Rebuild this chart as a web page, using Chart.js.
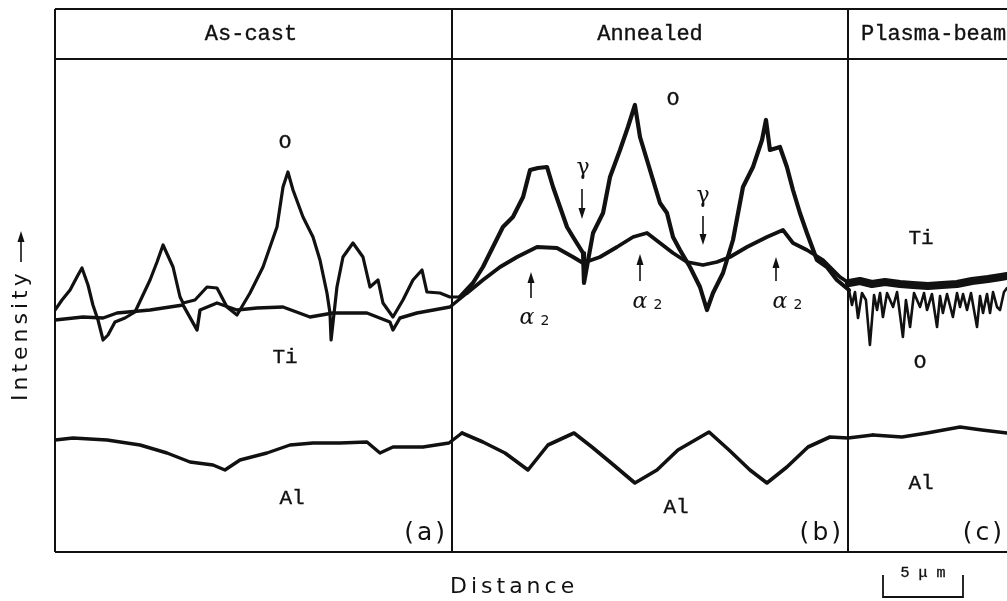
<!DOCTYPE html>
<html>
<head>
<meta charset="utf-8">
<script src="https://cdn.jsdelivr.net/npm/chart.js@4/dist/chart.umd.min.js"></script>
<style>
  html, body { margin: 0; padding: 0; background: #fff; }
  canvas { display: block; }
</style>
</head>
<body>
<canvas id="scan" width="1007" height="601"></canvas>
<script>
// EPMA line scans across three specimens; distance in µm, intensity in arbitrary units.
const PANEL_TITLES = ['As-cast', 'Annealed', 'Plasma-beam'];
const PANEL_TAGS = ['(a)', '(b)', '(c)'];
const PANEL_EDGES = [0, 25, 50, 60];          // µm
const SCALE_BAR = 5;                          // µm

// Oxygen
const O_X = [0.00,0.44,0.95,1.45,1.70,2.08,2.39,2.71,3.03,3.34,3.78,4.41,5.04,5.99,6.43,6.81,7.44,7.88,8.07,8.82,9.58,10.21,10.84,11.47,12.29,13.11,13.99,14.37,14.68,15.00,15.63,16.26,16.70,17.14,17.33,17.40,17.77,18.15,18.78,19.41,19.85,20.36,20.67,21.30,21.93,22.56,23.13,23.44,24.26,24.89,
  25.52,26.34,26.97,27.60,28.23,28.86,29.50,29.94,30.44,31.01,31.39,31.83,32.27,32.65,33.28,33.34,33.91,34.54,34.98,35.61,36.11,36.55,36.87,37.31,37.69,38.13,38.57,38.95,39.39,40.02,40.65,41.09,41.47,42.10,42.73,43.36,43.99,44.56,44.81,45.06,45.69,46.13,46.51,46.95,47.39,48.02,48.65,49.28,
  50.04,50.23,50.42,50.61,50.86,51.11,51.36,51.62,51.81,52.00,52.18,52.44,52.82,53.07,53.44,53.63,53.89,54.14,54.52,54.77,54.96,55.27,55.59,55.78,55.96,56.22,56.59,56.85,57.04,57.23,57.48,57.73,58.11,58.30,58.49,58.74,58.93,59.12,59.37,59.56,59.81,60.00];
const O_Y = [242,252,262,277,284,267,247,232,212,217,230,234,240,272,290,307,285,255,249,252,265,264,245,237,259,285,325,365,380,362,335,315,292,259,239,212,265,295,309,295,265,272,249,235,252,272,282,260,259,255,
  255,269,285,305,325,335,355,382,384,385,365,345,325,315,299,269,319,339,375,402,425,447,415,392,372,349,339,315,302,285,265,242,259,279,312,365,385,412,432,402,405,385,362,339,319,292,285,272,
  262,247,260,234,259,252,207,257,242,259,235,259,245,260,215,252,225,259,245,259,242,258,225,256,239,258,235,259,245,258,242,259,225,256,239,258,239,260,245,242,260,264];

// Titanium
const TI_X = [0,1.76,3.03,3.91,5.99,8.07,8.95,9.14,10.21,11.47,12.73,14.37,16.07,17.52,19.66,21.11,21.30,21.74,22.81,24.89,
  25.97,26.97,28.05,29.12,30.38,31.64,32.65,33.28,34.35,35.42,36.43,37.31,38.13,38.95,39.83,40.84,41.72,42.54,43.61,44.87,45.88,46.51,47.39,48.40,49.47,
  50.04,50.73,51.49,52.31,53.26,54.07,55.02,55.90,56.85,57.79,58.80,59.62,60.00];
const TI_Y = [232,235,234,239,242,247,222,242,249,242,244,245,235,239,239,230,222,234,239,245,
  259,272,285,295,305,304,295,289,295,305,315,319,309,299,290,287,290,295,305,315,322,309,302,292,275,
  269,271,268,270,268,267,266,267,268,271,273,275,276];

// Aluminium
const AL_X = [0,1.13,3.28,5.36,7.06,8.51,9.96,10.71,11.66,13.36,14.81,16.26,17.96,19.66,20.48,21.30,23.19,24.83,
  25.65,26.97,28.36,29.81,31.07,32.71,33.84,34.98,36.55,37.94,39.26,41.22,42.48,43.80,44.87,46.13,47.46,48.84,49.98,
  51.55,53.38,54.96,57.04,58.42,60.00];
const AL_Y = [112,114,112,107,99,90,87,82,92,99,107,109,109,110,99,105,105,109,
  119,110,99,82,107,119,105,90,69,82,102,120,102,82,69,85,105,115,114,
  117,115,119,125,122,119];

const toPoints = (xs, ys) => xs.map((x, i) => ({ x, y: ys[i] }));

const INK = '#111';

const figurePlugin = {
  id: 'figureFrame',
  beforeDraw(chart) {
    const c = chart.ctx;
    c.save();
    c.fillStyle = '#fff';
    c.fillRect(0, 0, chart.width, chart.height);
    c.restore();
  },
  afterDraw(chart) {
    const c = chart.ctx;
    const a = chart.chartArea;
    const xs = chart.scales.x;
    const headTop = a.top - 50;
    c.save();
    c.strokeStyle = INK;
    c.fillStyle = INK;
    c.lineWidth = 2;
    // frame
    c.beginPath();
    c.moveTo(a.left, headTop); c.lineTo(chart.width, headTop);
    c.moveTo(a.left, a.top); c.lineTo(chart.width, a.top);
    c.moveTo(a.left, a.bottom); c.lineTo(chart.width, a.bottom);
    c.moveTo(a.left, headTop); c.lineTo(a.left, a.bottom);
    PANEL_EDGES.slice(1, 3).forEach(e => {
      const px = Math.round(xs.getPixelForValue(e));
      c.moveTo(px, headTop); c.lineTo(px, a.bottom);
    });
    c.stroke();

    // typewriter-style text, slightly thickened
    const tw = (t, x, y) => {
      c.lineWidth = 0.35;
      c.fillText(t, x, y);
      c.strokeText(t, x, y);
    };

    // panel titles
    c.font = '22px "Liberation Mono", monospace';
    c.textBaseline = 'middle';
    c.textAlign = 'center';
    tw(PANEL_TITLES[0], 251, headTop + 25);
    tw(PANEL_TITLES[1], 650, headTop + 25);
    c.textAlign = 'left';
    tw(PANEL_TITLES[2], 861, headTop + 25);

    // element labels
    c.font = '21px "Liberation Mono", monospace';
    c.textAlign = 'center';
    tw('O', 285, 142);  tw('Ti', 285, 357);  tw('Al', 292, 498);
    tw('O', 673, 99);   tw('Al', 676, 507);
    tw('Ti', 921, 238); tw('O', 920, 362);  tw('Al', 921, 483);

    // panel tags
    c.font = '25px "DejaVu Sans", sans-serif';
    c.letterSpacing = '3px';
    c.textAlign = 'right';
    const tagY = a.bottom - 19;
    c.fillText(PANEL_TAGS[0], Math.round(xs.getPixelForValue(25)) - 4, tagY);
    c.fillText(PANEL_TAGS[1], Math.round(xs.getPixelForValue(50)) - 4, tagY);
    c.fillText(PANEL_TAGS[2], chart.width - 2, tagY);
    c.letterSpacing = '0px';

    // arrows
    const arrow = (x, y0, y1) => {
      const dir = Math.sign(y1 - y0);
      c.lineWidth = 1.6;
      c.beginPath(); c.moveTo(x, y0); c.lineTo(x, y1 - dir * 6); c.stroke();
      c.beginPath();
      c.moveTo(x, y1); c.lineTo(x - 3.5, y1 - dir * 11); c.lineTo(x + 3.5, y1 - dir * 11);
      c.closePath(); c.fill();
    };
    // gamma markers
    c.font = '22px "DejaVu Serif", serif';
    c.textAlign = 'center';
    c.fillText('γ', 583, 168);
    arrow(582, 189, 219);
    c.fillText('γ', 703, 196);
    arrow(703, 216, 245);
    // alpha-2 markers
    const alpha2 = (x, y) => {
      c.font = 'italic 22px "DejaVu Serif", serif';
      c.textAlign = 'center';
      c.fillText('α', x - 6, y);
      c.font = '14px "DejaVu Sans", sans-serif';
      c.fillText('2', x + 12, y + 3);
    };
    arrow(531, 298, 272); alpha2(533, 318);
    arrow(640, 281, 254); alpha2(646, 302);
    arrow(776, 281, 257); alpha2(786, 302);

    // axis titles
    c.font = '22px "DejaVu Sans", sans-serif';
    c.letterSpacing = '4px';
    c.textAlign = 'left';
    c.fillText('Distance', 450, 587);
    c.save();
    c.translate(21, 401);
    c.rotate(-Math.PI / 2);
    c.fillText('Intensity', 0, 0);
    c.restore();
    c.letterSpacing = '0px';
    arrow(21, 262, 231);

    // scale bar
    const sb0 = Math.round(xs.getPixelForValue(PANEL_EDGES[2] + 2.2));
    const sb1 = Math.round(xs.getPixelForValue(PANEL_EDGES[2] + 2.2 + SCALE_BAR));
    c.lineWidth = 1.8;
    c.beginPath();
    c.moveTo(sb0, 575); c.lineTo(sb0, 597); c.lineTo(sb1, 597); c.lineTo(sb1, 575);
    c.stroke();
    c.font = '15px "Liberation Mono", monospace';
    c.textAlign = 'center';
    tw('5 μ m', (sb0 + sb1) / 2, 573);
    c.restore();
  }
};

// Trace thickness per panel follows how broad the recorded noise band is.
const line = (xs, ys, widths) => ({
  data: toPoints(xs, ys),
  borderColor: INK,
  borderWidth: widths[0],
  borderJoinStyle: 'round',
  borderCapStyle: 'round',
  pointRadius: 0,
  tension: 0,
  fill: false,
  segment: {
    borderWidth: ctx => {
      const x = ctx.p0.parsed.x;
      return x < PANEL_EDGES[1] ? widths[0] : x < PANEL_EDGES[2] ? widths[1] : widths[2];
    }
  }
});

new Chart(document.getElementById('scan'), {
  type: 'line',
  data: {
    datasets: [
      line(AL_X, AL_Y, [3.4, 3.6, 3.4]),
      line(TI_X, TI_Y, [3.4, 3.8, 8]),
      line(O_X, O_Y, [3.2, 4.2, 2.6])
    ]
  },
  options: {
    responsive: false,
    animation: false,
    events: [],
    layout: { padding: { left: 55, top: 59, right: 0, bottom: 49 } },
    scales: {
      x: { type: 'linear', min: 0, max: 60, display: false },
      y: { type: 'linear', min: 0, max: 493, display: false }
    },
    plugins: { legend: { display: false }, tooltip: { enabled: false } }
  },
  plugins: [figurePlugin]
});
</script>
</body>
</html>
